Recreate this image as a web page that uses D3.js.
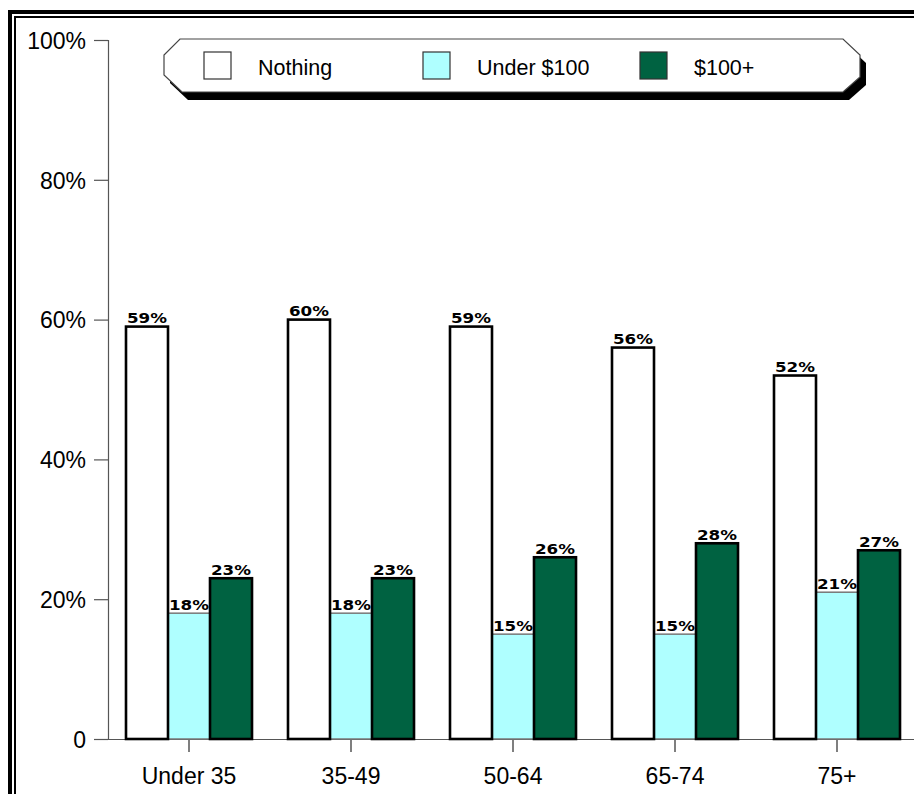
<!DOCTYPE html>
<html>
<head>
<meta charset="utf-8">
<script src="https://cdn.jsdelivr.net/npm/d3@7"></script>
<style>
  html, body { margin: 0; padding: 0; background: #fff; }
  svg { display: block; }
</style>
</head>
<body>
<svg id="chart" width="914" height="794"></svg>
<script>
const categories = ["Under 35", "35-49", "50-64", "65-74", "75+"];
const seriesNames = ["Nothing", "Under $100", "$100+"];
const nothingValues = [59, 60, 59, 56, 52];
const under100Values = [18, 18, 15, 15, 21];
const over100Values = [23, 23, 26, 28, 27];
const yTickValues = [0, 20, 40, 60, 80, 100];
const yTickLabels = ["0", "20%", "40%", "60%", "80%", "100%"];
const seriesColors = ["#ffffff", "#afffff", "#006241"];

const seriesValues = [nothingValues, under100Values, over100Values];
const data = categories.map((c, i) => ({
  cat: c,
  vals: seriesNames.map((s, j) => ({ key: s, idx: j, value: seriesValues[j][i] }))
}));

const svg = d3.select("#chart");

// double frame
svg.append("rect").attr("x", 10).attr("y", 12).attr("width", 1000).attr("height", 1000)
  .attr("fill", "none").attr("stroke", "#000").attr("stroke-width", 4);
svg.append("rect").attr("x", 15).attr("y", 17).attr("width", 1000).attr("height", 1000)
  .attr("fill", "none").attr("stroke", "#000").attr("stroke-width", 2);

const y = d3.scaleLinear().domain([0, 100]).range([739, 40]);
const x0 = d3.scaleBand().domain(categories).range([108, 918])
  .paddingInner(0.2222).paddingOuter(0.1111);
const x1 = d3.scaleBand().domain(seriesNames).range([0, x0.bandwidth()]);

// y axis
const yAxis = d3.axisLeft(y).tickValues(yTickValues)
  .tickFormat((d, i) => yTickLabels[i]).tickSize(14).tickPadding(8);
const gy = svg.append("g").attr("transform", "translate(108,0)").call(yAxis);
gy.select(".domain").attr("stroke", "#555").attr("stroke-width", 1.2);
gy.selectAll(".tick line").attr("stroke", "#555").attr("stroke-width", 1.2);
gy.selectAll(".tick text").attr("font-family", "Liberation Sans, Arial, sans-serif")
  .attr("font-size", 23).attr("fill", "#000").attr("dy", "0.36em");

// x axis
const xAxis = d3.axisBottom(x0).tickSize(13).tickPadding(16).tickSizeOuter(0);
const gx = svg.append("g").attr("transform", "translate(0,739)").call(xAxis);
gx.select(".domain").attr("d", "M94,0.5H914").attr("stroke", "#555").attr("stroke-width", 1.2);
gx.selectAll(".tick line").attr("stroke", "#555").attr("stroke-width", 1.5);
gx.selectAll(".tick text").attr("font-family", "Liberation Sans, Arial, sans-serif")
  .attr("font-size", 23).attr("fill", "#000");

// bars
const groups = svg.append("g").selectAll("g").data(data).join("g")
  .attr("transform", d => `translate(${x0(d.cat)},0)`);

groups.selectAll("rect").data(d => d.vals).join("rect")
  .attr("x", d => x1(d.key))
  .attr("y", d => y(d.value))
  .attr("width", x1.bandwidth())
  .attr("height", d => y(0) - y(d.value))
  .attr("fill", d => seriesColors[d.idx])
  .attr("stroke", d => d.idx === 1 ? "#777" : "#000")
  .attr("stroke-width", d => d.idx === 1 ? 1.5 : 2.6);

groups.selectAll("rect").filter(d => d.idx !== 1).raise();

groups.selectAll("text.lbl").data(d => d.vals).join("text")
  .attr("class", "lbl")
  .attr("x", d => x1(d.key) + x1.bandwidth() / 2)
  .attr("y", d => y(d.value) - 3.5)
  .attr("text-anchor", "middle")
  .attr("font-family", "DejaVu Sans, Verdana, sans-serif")
  .attr("font-weight", "bold")
  .attr("font-size", 14)
  .attr("textLength", 40)
  .attr("lengthAdjust", "spacingAndGlyphs")
  .attr("fill", "#000")
  .text(d => d.value + "%");

// legend
const lg = svg.append("g");
const pts = [[180,39],[843,39],[860,55],[860,77],[843,92],[182,92],[164,75],[164,55]];
const line = d3.line();
lg.append("path").attr("d", line(pts.map(p => [p[0] + 6, p[1] + 8])) + "Z").attr("fill", "#000");
lg.append("path").attr("d", line(pts) + "Z").attr("fill", "#fff")
  .attr("stroke", "#444").attr("stroke-width", 1.2);

const legendX = [204, 423, 640];
seriesNames.forEach((s, i) => {
  lg.append("rect").attr("x", legendX[i]).attr("y", 52).attr("width", 27).attr("height", 27)
    .attr("fill", seriesColors[i]).attr("stroke", "#333").attr("stroke-width", 1.2);
  lg.append("text").attr("x", legendX[i] + 54).attr("y", 75)
    .attr("font-family", "Liberation Sans, Arial, sans-serif").attr("font-size", 21.5)
    .attr("fill", "#000").text(s);
});
</script>
</body>
</html>
